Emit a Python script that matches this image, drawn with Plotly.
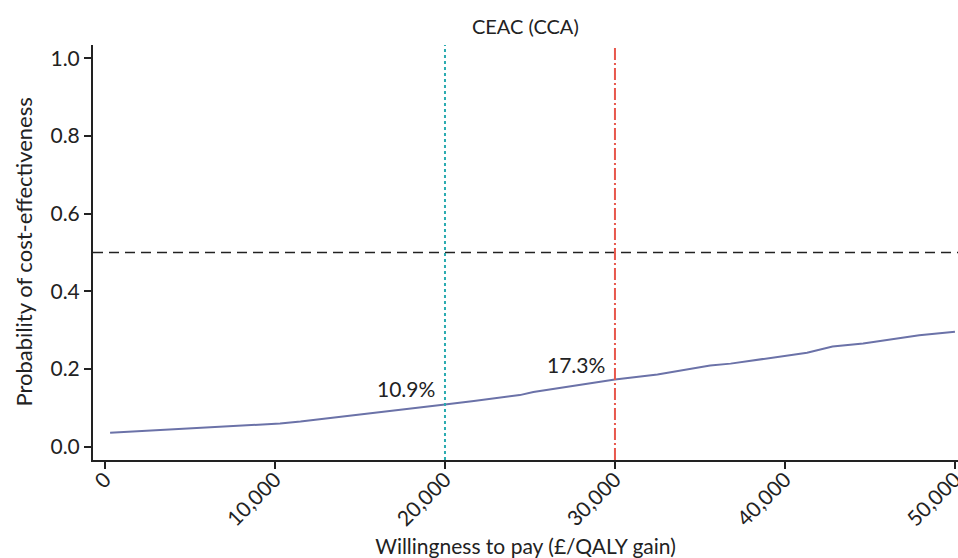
import plotly.graph_objects as go

# Cost-effectiveness acceptability curve data
wtp = [300, 4600, 10300, 11500, 12700, 15400, 20000, 21700, 24400, 25200, 28100,
       30000, 32500, 33000, 35600, 36800, 41300, 42800, 44600, 47900, 50000]
prob_ce = [0.036, 0.046, 0.060, 0.065, 0.071, 0.086, 0.109, 0.118, 0.133, 0.141, 0.160,
           0.173, 0.186, 0.190, 0.209, 0.214, 0.242, 0.258, 0.266, 0.287, 0.296]

thresholds = [20000, 30000]
threshold_labels = ["10.9%", "17.3%"]
threshold_values = [0.109, 0.173]
threshold_colors = ["#2aabb0", "#e8574c"]
threshold_dash = ["3px,3px", "12px,3px,2px,3px"]
half_line = 0.5

x_ticks = [0, 10000, 20000, 30000, 40000, 50000]
x_tick_text = ["0", "10,000", "20,000", "30,000", "40,000", "50,000"]
y_ticks = [0.0, 0.2, 0.4, 0.6, 0.8, 1.0]

FONT = "Lato"
INK = "#222222"

fig = go.Figure()

fig.add_trace(go.Scatter(
    x=wtp, y=prob_ce, mode="lines",
    line=dict(color="#6b72a8", width=2),
    hoverinfo="skip", showlegend=False,
))

# 50% reference line
fig.add_shape(type="line", xref="paper", yref="y", x0=0, x1=1, y0=half_line, y1=half_line,
              line=dict(color=INK, width=1.6, dash="10px,6px"), layer="above")

# Threshold lines with value labels
for t, lab, val, col, dsh in zip(thresholds, threshold_labels, threshold_values,
                                  threshold_colors, threshold_dash):
    fig.add_shape(type="line", xref="x", yref="paper", x0=t, x1=t, y0=0, y1=1,
                  line=dict(color=col, width=2, dash=dsh), layer="above")
    fig.add_annotation(x=t, y=val, xref="x", yref="y", text=lab, showarrow=False,
                       xanchor="right", yanchor="bottom", xshift=-8, yshift=1,
                       font=dict(family=FONT, size=21, color=INK))

# Y-axis title, placed close to the page edge
fig.add_annotation(x=0, y=0.5, xref="paper", yref="paper", xanchor="center", yanchor="middle",
                   xshift=-70, textangle=-90, showarrow=False,
                   text="Probability of cost-effectiveness",
                   font=dict(family=FONT, size=22, color=INK))

fig.update_layout(
    width=958, height=558,
    margin=dict(l=93, r=0, t=45, b=98),
    paper_bgcolor="white", plot_bgcolor="white",
    font=dict(family=FONT, color=INK),
    title=dict(text="CEAC (CCA)", x=0.5484, xanchor="center", y=0.952, yanchor="middle",
               font=dict(family=FONT, size=20, color=INK)),
    xaxis=dict(
        range=[-706, 50180], tickvals=x_ticks, ticktext=x_tick_text, tickangle=-45,
        automargin=False,
        showgrid=False, zeroline=False, showline=True, linecolor=INK, linewidth=2,
        ticks="outside", ticklen=7, tickwidth=2, tickcolor=INK,
        ticklabeloverflow="allow", ticklabelstandoff=-10,
        tickfont=dict(family=FONT, size=21, color=INK),
        title=dict(text="Willingness to pay (£/QALY gain)", standoff=14,
                   font=dict(family=FONT, size=21, color=INK)),
    ),
    yaxis=dict(
        range=[-0.034, 1.034], tickvals=y_ticks, tickformat=".1f",
        automargin=False,
        showgrid=False, zeroline=False, showline=True, linecolor=INK, linewidth=2,
        ticks="outside", ticklen=7, tickwidth=2, tickcolor=INK,
        tickfont=dict(family=FONT, size=21, color=INK),
    ),
)

fig.write_html("out.html")
